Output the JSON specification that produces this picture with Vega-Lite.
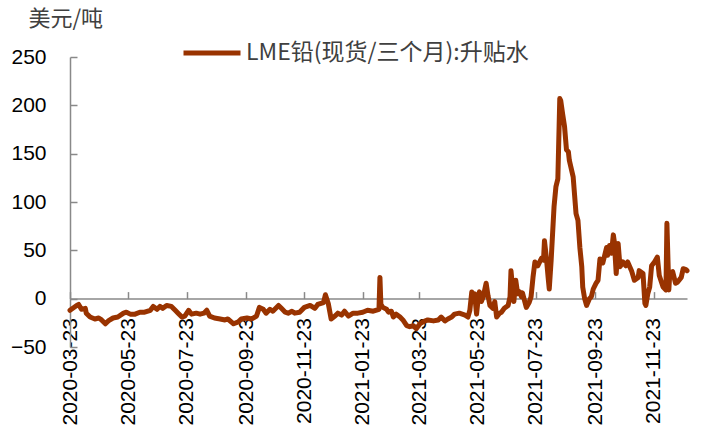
{
  "$schema": "https://vega.github.io/schema/vega-lite/v6.json",
  "width": 617,
  "height": 290,
  "autosize": {"type": "none"},
  "padding": {"left": 70, "top": 57, "right": 15, "bottom": 83},
  "config": {"view": {"stroke": null}, "font": "Liberation Sans"},
  "data": {
    "values": [
      {"date": "2020-03-23", "value": -12}, {"date": "2020-03-30", "value": -7}, {"date": "2020-04-01", "value": -6},
      {"date": "2020-04-04", "value": -11}, {"date": "2020-04-08", "value": -10}, {"date": "2020-04-09", "value": -15},
      {"date": "2020-04-13", "value": -19}, {"date": "2020-04-18", "value": -21}, {"date": "2020-04-22", "value": -20},
      {"date": "2020-04-25", "value": -22}, {"date": "2020-04-29", "value": -26}, {"date": "2020-05-02", "value": -23},
      {"date": "2020-05-07", "value": -20}, {"date": "2020-05-12", "value": -19}, {"date": "2020-05-18", "value": -15},
      {"date": "2020-05-21", "value": -14}, {"date": "2020-05-25", "value": -16}, {"date": "2020-05-30", "value": -16},
      {"date": "2020-06-04", "value": -14}, {"date": "2020-06-09", "value": -14}, {"date": "2020-06-15", "value": -12},
      {"date": "2020-06-18", "value": -8}, {"date": "2020-06-22", "value": -11}, {"date": "2020-06-25", "value": -8},
      {"date": "2020-06-28", "value": -10}, {"date": "2020-07-02", "value": -7}, {"date": "2020-07-07", "value": -8},
      {"date": "2020-07-11", "value": -12}, {"date": "2020-07-14", "value": -15}, {"date": "2020-07-18", "value": -19},
      {"date": "2020-07-21", "value": -18}, {"date": "2020-07-25", "value": -12}, {"date": "2020-07-28", "value": -16},
      {"date": "2020-08-02", "value": -15}, {"date": "2020-08-06", "value": -16}, {"date": "2020-08-10", "value": -15},
      {"date": "2020-08-13", "value": -12}, {"date": "2020-08-16", "value": -18}, {"date": "2020-08-21", "value": -20},
      {"date": "2020-08-27", "value": -21}, {"date": "2020-09-01", "value": -22}, {"date": "2020-09-04", "value": -21},
      {"date": "2020-09-10", "value": -26}, {"date": "2020-09-15", "value": -24}, {"date": "2020-09-18", "value": -21},
      {"date": "2020-09-24", "value": -20}, {"date": "2020-09-29", "value": -21}, {"date": "2020-10-04", "value": -18},
      {"date": "2020-10-07", "value": -9}, {"date": "2020-10-11", "value": -11}, {"date": "2020-10-14", "value": -15},
      {"date": "2020-10-18", "value": -11}, {"date": "2020-10-21", "value": -13}, {"date": "2020-10-27", "value": -7},
      {"date": "2020-10-30", "value": -10}, {"date": "2020-11-03", "value": -14}, {"date": "2020-11-06", "value": -15},
      {"date": "2020-11-10", "value": -13}, {"date": "2020-11-13", "value": -15}, {"date": "2020-11-18", "value": -14},
      {"date": "2020-11-23", "value": -9}, {"date": "2020-11-29", "value": -7}, {"date": "2020-12-04", "value": -10},
      {"date": "2020-12-07", "value": -6}, {"date": "2020-12-13", "value": -4}, {"date": "2020-12-15", "value": 4},
      {"date": "2020-12-18", "value": -5}, {"date": "2020-12-21", "value": -21}, {"date": "2020-12-25", "value": -18},
      {"date": "2020-12-28", "value": -15}, {"date": "2021-01-01", "value": -17}, {"date": "2021-01-04", "value": -13},
      {"date": "2021-01-08", "value": -18}, {"date": "2021-01-13", "value": -15}, {"date": "2021-01-18", "value": -15},
      {"date": "2021-01-23", "value": -14}, {"date": "2021-01-28", "value": -12}, {"date": "2021-02-03", "value": -13},
      {"date": "2021-02-09", "value": -11}, {"date": "2021-02-10", "value": 22}, {"date": "2021-02-11", "value": -6},
      {"date": "2021-02-13", "value": -9}, {"date": "2021-02-17", "value": -11}, {"date": "2021-02-19", "value": -14},
      {"date": "2021-02-22", "value": -13}, {"date": "2021-02-24", "value": -19}, {"date": "2021-02-27", "value": -16},
      {"date": "2021-03-03", "value": -19}, {"date": "2021-03-06", "value": -22}, {"date": "2021-03-10", "value": -28},
      {"date": "2021-03-13", "value": -29}, {"date": "2021-03-17", "value": -28}, {"date": "2021-03-20", "value": -31},
      {"date": "2021-03-24", "value": -26}, {"date": "2021-03-27", "value": -24}, {"date": "2021-04-01", "value": -22},
      {"date": "2021-04-07", "value": -23}, {"date": "2021-04-12", "value": -22}, {"date": "2021-04-15", "value": -19},
      {"date": "2021-04-19", "value": -23}, {"date": "2021-04-22", "value": -21}, {"date": "2021-04-26", "value": -19},
      {"date": "2021-04-29", "value": -16}, {"date": "2021-05-04", "value": -15}, {"date": "2021-05-10", "value": -17},
      {"date": "2021-05-13", "value": -19}, {"date": "2021-05-15", "value": -12}, {"date": "2021-05-17", "value": 7},
      {"date": "2021-05-18", "value": 2}, {"date": "2021-05-20", "value": 5}, {"date": "2021-05-22", "value": -16},
      {"date": "2021-05-24", "value": 3}, {"date": "2021-05-25", "value": 7}, {"date": "2021-05-27", "value": -3},
      {"date": "2021-05-29", "value": 2}, {"date": "2021-06-01", "value": 16}, {"date": "2021-06-03", "value": 3},
      {"date": "2021-06-05", "value": -7}, {"date": "2021-06-08", "value": -10}, {"date": "2021-06-10", "value": -3},
      {"date": "2021-06-12", "value": -19}, {"date": "2021-06-15", "value": -15}, {"date": "2021-06-17", "value": -14},
      {"date": "2021-06-20", "value": -10}, {"date": "2021-06-24", "value": -7}, {"date": "2021-06-26", "value": 2},
      {"date": "2021-06-27", "value": 29}, {"date": "2021-06-29", "value": 8}, {"date": "2021-06-30", "value": -3},
      {"date": "2021-07-02", "value": 19}, {"date": "2021-07-04", "value": 5}, {"date": "2021-07-06", "value": 7},
      {"date": "2021-07-08", "value": 2}, {"date": "2021-07-09", "value": 6}, {"date": "2021-07-13", "value": -9},
      {"date": "2021-07-16", "value": -4}, {"date": "2021-07-18", "value": 2}, {"date": "2021-07-20", "value": 22},
      {"date": "2021-07-22", "value": 38}, {"date": "2021-07-25", "value": 34}, {"date": "2021-07-27", "value": 38},
      {"date": "2021-07-29", "value": 42}, {"date": "2021-07-31", "value": 40}, {"date": "2021-08-01", "value": 60},
      {"date": "2021-08-03", "value": 42}, {"date": "2021-08-05", "value": 20}, {"date": "2021-08-06", "value": 10},
      {"date": "2021-08-08", "value": 40}, {"date": "2021-08-11", "value": 95}, {"date": "2021-08-13", "value": 116},
      {"date": "2021-08-15", "value": 124}, {"date": "2021-08-17", "value": 207}, {"date": "2021-08-18", "value": 205},
      {"date": "2021-08-20", "value": 191}, {"date": "2021-08-22", "value": 178}, {"date": "2021-08-24", "value": 154},
      {"date": "2021-08-26", "value": 152}, {"date": "2021-08-27", "value": 143}, {"date": "2021-08-31", "value": 126},
      {"date": "2021-09-03", "value": 88}, {"date": "2021-09-05", "value": 81}, {"date": "2021-09-07", "value": 53},
      {"date": "2021-09-09", "value": 33}, {"date": "2021-09-10", "value": 12}, {"date": "2021-09-12", "value": 0},
      {"date": "2021-09-14", "value": -7}, {"date": "2021-09-17", "value": 0}, {"date": "2021-09-19", "value": 2},
      {"date": "2021-09-21", "value": 10}, {"date": "2021-09-24", "value": 16}, {"date": "2021-09-26", "value": 19},
      {"date": "2021-09-28", "value": 41}, {"date": "2021-10-01", "value": 37}, {"date": "2021-10-05", "value": 53},
      {"date": "2021-10-06", "value": 45}, {"date": "2021-10-08", "value": 55}, {"date": "2021-10-10", "value": 47},
      {"date": "2021-10-12", "value": 66}, {"date": "2021-10-13", "value": 59}, {"date": "2021-10-15", "value": 26},
      {"date": "2021-10-17", "value": 57}, {"date": "2021-10-19", "value": 33}, {"date": "2021-10-22", "value": 38},
      {"date": "2021-10-25", "value": 34}, {"date": "2021-10-27", "value": 38}, {"date": "2021-10-31", "value": 29},
      {"date": "2021-11-03", "value": 19}, {"date": "2021-11-07", "value": 22}, {"date": "2021-11-08", "value": 29},
      {"date": "2021-11-12", "value": 26}, {"date": "2021-11-14", "value": -5}, {"date": "2021-11-15", "value": -7},
      {"date": "2021-11-17", "value": 5}, {"date": "2021-11-19", "value": 12}, {"date": "2021-11-21", "value": 34},
      {"date": "2021-11-24", "value": 38}, {"date": "2021-11-27", "value": 43}, {"date": "2021-11-29", "value": 24},
      {"date": "2021-12-03", "value": 12}, {"date": "2021-12-06", "value": 9}, {"date": "2021-12-07", "value": 78},
      {"date": "2021-12-09", "value": 9}, {"date": "2021-12-10", "value": 26}, {"date": "2021-12-13", "value": 28},
      {"date": "2021-12-16", "value": 16}, {"date": "2021-12-18", "value": 17}, {"date": "2021-12-22", "value": 22},
      {"date": "2021-12-24", "value": 31}, {"date": "2021-12-27", "value": 30}, {"date": "2021-12-28", "value": 29}
    ]
  },
  "mark": {"type": "line", "strokeWidth": 5, "strokeJoin": "round", "strokeCap": "round"},
  "encoding": {
    "x": {
      "field": "date",
      "type": "temporal",
      "scale": {
        "type": "utc",
        "domain": [
          {"year": 2020, "month": 3, "date": 23, "utc": true},
          {"year": 2021, "month": 12, "date": 28, "utc": true}
        ]
      },
      "axis": {
        "title": null,
        "grid": false,
        "values": [
          {"year": 2020, "month": 3, "date": 23, "utc": true},
          {"year": 2020, "month": 5, "date": 23, "utc": true},
          {"year": 2020, "month": 7, "date": 23, "utc": true},
          {"year": 2020, "month": 9, "date": 23, "utc": true},
          {"year": 2020, "month": 11, "date": 23, "utc": true},
          {"year": 2021, "month": 1, "date": 23, "utc": true},
          {"year": 2021, "month": 3, "date": 23, "utc": true},
          {"year": 2021, "month": 5, "date": 23, "utc": true},
          {"year": 2021, "month": 7, "date": 23, "utc": true},
          {"year": 2021, "month": 9, "date": 23, "utc": true},
          {"year": 2021, "month": 11, "date": 23, "utc": true}
        ],
        "format": "%Y-%m-%d",
        "labelAngle": -90,
        "labelFontSize": 21,
        "labelColor": "#000000",
        "labelOverlap": false,
        "labelFlush": false,
        "offset": -48.4,
        "tickSize": -7,
        "labelPadding": 26,
        "domainColor": "#898989",
        "tickColor": "#898989",
        "domainWidth": 1.5,
        "tickWidth": 1.5
      }
    },
    "y": {
      "field": "value",
      "type": "quantitative",
      "scale": {"domain": [-50, 250], "nice": false, "zero": false},
      "axis": {
        "values": [-50, 0, 50, 100, 150, 200, 250],
        "grid": false,
        "labelFontSize": 21,
        "labelColor": "#000000",
        "tickSize": -7,
        "labelPadding": 31,
        "domainColor": "#898989",
        "tickColor": "#898989",
        "domainWidth": 1.5,
        "tickWidth": 1.5,
        "title": "美元/吨",
        "titleAngle": 0,
        "titleX": -42,
        "titleY": -39,
        "titleAlign": "left",
        "titleBaseline": "middle",
        "titleFont": "Noto Sans CJK SC",
        "titleFontSize": 22,
        "titleFontWeight": "normal",
        "titleColor": "#404040"
      }
    },
    "color": {
      "datum": "LME铅(现货/三个月):升贴水",
      "type": "nominal",
      "scale": {"range": ["#993300"]},
      "legend": {
        "title": null,
        "orient": "none",
        "legendX": 111,
        "legendY": -35,
        "padding": 0,
        "symbolType": "stroke",
        "symbolSize": 3249,
        "symbolStrokeWidth": 5,
        "labelFont": "Noto Sans CJK SC",
        "labelFontSize": 23,
        "labelColor": "#404040",
        "labelOffset": 3,
        "labelLimit": 0
      }
    }
  }
}
